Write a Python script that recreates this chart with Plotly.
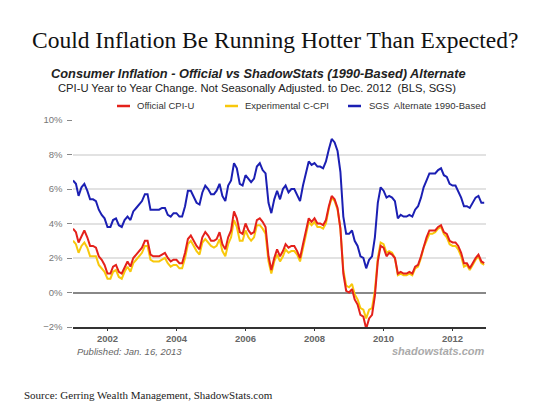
import plotly.graph_objects as go
import pandas as pd

# ---------------- data (monthly, Jan 2001 - Dec 2012, % yoy) ----------------
months = pd.date_range("2001-01-01", periods=144, freq="MS")

official_cpi_u = [
    3.7, 3.5, 2.9, 3.3, 3.6, 3.2, 2.7, 2.7, 2.6, 2.1, 1.9, 1.6,
    1.1, 1.1, 1.5, 1.6, 1.2, 1.1, 1.5, 1.8, 1.5, 2.0, 2.2, 2.4,
    2.6, 3.0, 3.0, 2.2, 2.1, 2.1, 2.1, 2.2, 2.3, 2.0, 1.8, 1.9,
    1.9, 1.7, 1.7, 2.3, 3.1, 3.3, 3.0, 2.7, 2.5, 3.2, 3.5, 3.3,
    3.0, 3.0, 3.1, 3.5, 2.8, 2.5, 3.2, 3.6, 4.7, 4.3, 3.5, 3.4,
    4.0, 3.6, 3.4, 3.5, 4.2, 4.3, 4.1, 3.8, 2.1, 1.3, 2.0, 2.5,
    2.1, 2.4, 2.8, 2.6, 2.7, 2.7, 2.4, 2.0, 2.8, 3.5, 4.3, 4.1,
    4.3, 4.0, 4.0, 3.9, 4.2, 5.0, 5.6, 5.4, 4.9, 3.7, 1.1, 0.1,
    0.0, 0.2, -0.4, -0.7, -1.3, -1.4, -2.1, -1.5, -1.3, -0.2, 1.8, 2.7,
    2.6, 2.1, 2.3, 2.2, 2.0, 1.1, 1.2, 1.1, 1.1, 1.2, 1.1, 1.5,
    1.6, 2.1, 2.7, 3.2, 3.6, 3.6, 3.6, 3.8, 3.9, 3.5, 3.4, 3.0,
    2.9, 2.9, 2.7, 2.3, 1.7, 1.7, 1.4, 1.7, 2.0, 2.2, 1.8, 1.7,
]

experimental_c_cpi = [
    3.0, 2.8, 2.3, 2.7, 2.9, 2.6, 2.1, 2.1, 2.1, 1.6, 1.4, 1.2,
    0.8, 0.8, 1.2, 1.3, 0.9, 0.8, 1.2, 1.5, 1.2, 1.7, 1.9, 2.1,
    2.3, 2.7, 2.7, 1.9, 1.8, 1.8, 1.8, 1.9, 2.0, 1.7, 1.5, 1.6,
    1.6, 1.4, 1.4, 2.0, 2.8, 3.0, 2.7, 2.4, 2.2, 2.9, 3.1, 2.9,
    2.7, 2.6, 2.7, 3.1, 2.4, 2.1, 2.8, 3.2, 4.2, 3.8, 3.0, 3.0,
    3.6, 3.2, 3.0, 3.2, 3.9, 3.9, 3.7, 3.4, 1.8, 1.1, 1.8, 2.2,
    1.8, 2.1, 2.5, 2.3, 2.4, 2.4, 2.2, 1.8, 2.5, 3.3, 4.1, 3.9,
    4.1, 3.8, 3.8, 3.7, 4.0, 4.9, 5.5, 5.3, 4.8, 3.7, 1.3, 0.4,
    0.3, 0.5, -0.1, -0.4, -0.9, -1.0, -1.5, -1.0, -0.9, 0.1, 2.0, 2.9,
    2.8, 2.3, 2.4, 2.3, 2.0, 1.0, 1.1, 1.0, 1.0, 1.1, 1.0, 1.4,
    1.5, 2.0, 2.6, 3.0, 3.4, 3.4, 3.5, 3.7, 3.8, 3.4, 3.2, 2.8,
    2.7, 2.7, 2.5, 2.1, 1.5, 1.6, 1.3, 1.6, 1.9, 2.1, 1.7, 1.6,
]

sgs_alternate_1990 = [
    6.5, 6.3, 5.6, 6.1, 6.3, 5.9, 5.4, 5.4, 5.3, 4.8, 4.5, 4.3,
    3.8, 3.8, 4.2, 4.3, 3.9, 3.8, 4.2, 4.4, 4.2, 4.7, 4.9, 5.1,
    5.3, 5.7, 5.7, 4.8, 4.8, 4.8, 4.8, 4.9, 4.9, 4.5, 4.4, 4.6,
    4.6, 4.4, 4.4, 5.0, 5.9, 5.9, 5.6, 5.2, 5.1, 5.8, 6.2, 6.0,
    5.7, 5.7, 5.9, 6.3, 5.6, 5.3, 6.2, 6.5, 7.5, 7.2, 6.3, 6.2,
    6.8, 6.6, 6.4, 6.6, 7.3, 7.5, 7.1, 6.9, 5.2, 4.6, 5.4, 5.9,
    5.4, 6.0, 6.2, 5.8, 6.0, 6.0, 5.7, 5.3, 6.2, 6.9, 7.6, 7.4,
    7.5, 7.3, 7.3, 7.2, 7.6, 8.3, 8.9, 8.7, 8.2, 7.0, 4.4, 3.4,
    3.4, 3.6, 3.0, 2.7, 2.1, 2.0, 1.4, 1.9, 2.1, 3.2, 5.2, 6.1,
    5.9, 5.5, 5.6, 5.5, 5.3, 4.3, 4.5, 4.4, 4.4, 4.5, 4.4, 4.8,
    5.0, 5.5, 6.1, 6.5, 6.9, 6.9, 6.9, 7.1, 7.2, 6.8, 6.7, 6.3,
    6.2, 6.2, 5.9, 5.5, 5.0, 5.0, 4.9, 5.2, 5.5, 5.6, 5.2, 5.2,
]

series_names = ["Official CPI-U", "Experimental C-CPI", "SGS  Alternate 1990-Based"]
y_tick_values = [-2, 0, 2, 4, 6, 8, 10]

RED = "#e4211b"
YELLOW = "#f8c80c"
BLUE = "#1b1fb3"

# page offset (browser body margin)
OFF = 8
W, H = 550 - OFF, 413 - OFF
PL, PR, PT, PB = 73, 486, 120, 327        # plot box in page pixels
L, T = PL - OFF, PT - OFF
R, B = W - (PR - OFF), H - (PB - OFF)

def px(xp, yp):
    """page pixel -> paper coords"""
    return (xp - PL) / (PR - PL), (PB - yp) / (PB - PT)

fig = go.Figure()
fig.add_trace(go.Scatter(x=months, y=experimental_c_cpi, mode="lines",
                         line=dict(color=YELLOW, width=2), name=series_names[1]))
fig.add_trace(go.Scatter(x=months, y=official_cpi_u, mode="lines",
                         line=dict(color=RED, width=2), name=series_names[0]))
fig.add_trace(go.Scatter(x=months, y=sgs_alternate_1990, mode="lines",
                         line=dict(color=BLUE, width=2), name=series_names[2]))

fig.update_layout(
    width=W, height=H,
    margin=dict(l=L, r=R, t=T, b=B, pad=0),
    paper_bgcolor="white", plot_bgcolor="white",
    showlegend=False,
    font=dict(family="Liberation Sans, Arial, sans-serif", color="#777"),
)
fig.update_xaxes(
    type="date", range=["2001-01-01", "2012-12-20"],
    tick0="2002-01-01", dtick="M24", tickformat="%Y",
    ticks="outside", ticklen=2, tickcolor="#333", tickwidth=1,
    showgrid=False, showline=True, linecolor="#333", linewidth=1.5,
    tickfont=dict(size=9.5, color="#666", weight="bold"),
    zeroline=False,
)
fig.update_yaxes(
    range=[-2, 10], tickvals=y_tick_values,
    ticktext=[("−" if v < 0 else "") + f"{abs(v)}% " for v in y_tick_values],
    ticks="outside", ticklen=5, tickcolor="#888", tickwidth=1,
    showgrid=True, gridcolor="#e2e2e2", gridwidth=1.5,
    zeroline=True, zerolinecolor="#888", zerolinewidth=1.5,
    showline=False,
    tickfont=dict(size=9.5, color="#777"),
)

ann = []
def add_text(text, xp, yp, xanchor="center", size=10, color="#000", family=None,
             weight="normal", style="normal"):
    x, y = px(xp, yp)
    ann.append(dict(text=text, x=x, y=y, xref="paper", yref="paper",
                    xanchor=xanchor, yanchor="middle", showarrow=False,
                    font=dict(size=size, color=color,
                              family=family or "Liberation Sans, Arial, sans-serif",
                              weight=weight, style=style)))

add_text("Could Inflation Be Running Hotter Than Expected?", 275, 40, size=23.5,
         color="#111", family="Liberation Serif, Georgia, serif")
add_text("Consumer Inflation - Official vs ShadowStats (1990-Based) Alternate",
         258, 73, size=12.8, color="#222", weight="bold", style="italic")
add_text("CPI-U Year to Year Change. Not Seasonally Adjusted. to Dec. 2012  (BLS, SGS)",
         257, 88, size=11.2, color="#222")

# legend
legend_items = [(117, 135, RED, series_names[0]),
                (225, 243, YELLOW, series_names[1]),
                (348, 367, BLUE, series_names[2])]
shapes = []
for x0, xt, col, name in legend_items:
    a, yy = px(x0, 106)
    b, _ = px(x0 + 13, 106)
    shapes.append(dict(type="line", xref="paper", yref="paper", x0=a, x1=b, y0=yy, y1=yy,
                       line=dict(color=col, width=2.5)))
    add_text(name, xt, 106, xanchor="left", size=9.5, color="#333")

add_text("Published: Jan. 16, 2013", 75, 351, xanchor="left", size=9.5, color="#666",
         style="italic")
add_text("shadowstats.com", 487, 351, xanchor="right", size=11, color="#aaa",
         weight="bold", style="italic")
add_text("Source: Gerring Wealth Management, ShadowStats.com", 22, 395, xanchor="left",
         size=11, color="#222", family="Liberation Serif, Georgia, serif")

fig.update_layout(annotations=ann, shapes=shapes)
fig.write_html("out.html")
